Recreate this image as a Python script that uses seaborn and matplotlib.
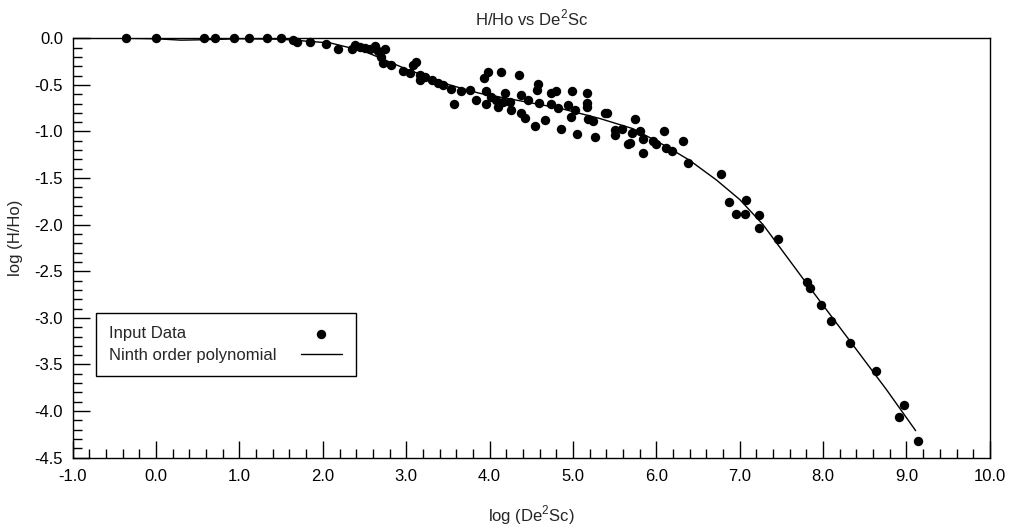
import numpy as np
import pandas as pd
import matplotlib
matplotlib.use("Agg")
import matplotlib.pyplot as plt
import matplotlib.ticker as ticker
import seaborn as sns

# Input data
x_data = [-0.36, 0.00, 0.58, 0.71, 0.93, 1.12, 1.33, 1.50, 1.64, 1.69, 1.85, 2.04,
          2.18, 2.35, 2.38, 2.44, 2.50, 2.57, 2.62, 2.66, 2.74, 2.70, 2.72, 2.82,
          2.96, 3.04, 3.12, 3.08, 3.16, 3.17, 3.23, 3.31, 3.38, 3.44, 3.54, 3.57,
          3.66, 3.76, 3.84, 3.93, 3.98, 3.96, 3.96, 4.02, 4.08, 4.10, 4.14, 4.18,
          4.16, 4.24, 4.26, 4.35, 4.38, 4.38, 4.42, 4.46, 4.54, 4.58, 4.57, 4.59,
          4.66, 4.74, 4.80, 4.74, 4.82, 4.86, 4.94, 4.99, 5.02, 5.05, 4.98, 5.17,
          5.17, 5.17, 5.18, 5.24, 5.27, 5.38, 5.41, 5.50, 5.51, 5.59, 5.66, 5.74,
          5.71, 5.80, 5.68, 5.84, 5.84, 5.96, 5.99, 6.09, 6.11, 6.19, 6.32, 6.38,
          6.78, 6.87, 6.96, 7.06, 7.07, 7.23, 7.23, 7.46, 7.81, 7.84, 7.97, 8.10,
          8.32, 8.63, 8.97, 8.91, 9.14]
y_data = [0.00, 0.00, 0.00, 0.00, 0.00, 0.00, 0.00, 0.00, -0.02, -0.04, -0.04, -0.065,
          -0.11, -0.11, -0.075, -0.09, -0.10, -0.11, -0.08, -0.14, -0.12, -0.20, -0.27, -0.29,
          -0.35, -0.37, -0.25, -0.29, -0.39, -0.45, -0.41, -0.45, -0.48, -0.50, -0.54, -0.70,
          -0.57, -0.56, -0.66, -0.43, -0.36, -0.57, -0.70, -0.63, -0.66, -0.74, -0.36, -0.59,
          -0.68, -0.68, -0.77, -0.39, -0.61, -0.80, -0.86, -0.66, -0.94, -0.49, -0.55, -0.69,
          -0.88, -0.59, -0.57, -0.70, -0.75, -0.97, -0.72, -0.57, -0.77, -1.03, -0.84, -0.59,
          -0.69, -0.74, -0.87, -0.89, -1.06, -0.80, -0.80, -0.98, -1.04, -0.97, -1.13, -0.87,
          -1.02, -1.00, -1.12, -1.08, -1.23, -1.10, -1.13, -0.99, -1.18, -1.21, -1.10, -1.34,
          -1.46, -1.76, -1.89, -1.89, -1.73, -1.90, -2.04, -2.15, -2.62, -2.68, -2.86, -3.03,
          -3.27, -3.57, -3.93, -4.06, -4.32]

# Ninth order polynomial curve
x_fit = [-0.36, 0.0, 0.3, 0.6, 1.0, 1.5, 2.09, 2.5, 3.0, 3.52, 3.88, 4.3, 4.84,
         5.32, 5.72, 6.12, 6.40, 6.72, 7.00, 7.28, 7.76, 8.24, 8.76, 9.11]
y_fit = [0.0, -0.005, -0.02, -0.015, -0.005, -0.01, -0.05, -0.14, -0.33, -0.50, -0.59,
         -0.66, -0.75, -0.86, -0.97, -1.16, -1.31, -1.52, -1.73, -2.00, -2.58, -3.15,
         -3.77, -4.21]

df_pts = pd.DataFrame({"x": x_data, "y": y_data})
df_fit = pd.DataFrame({"x": x_fit, "y": y_fit})

sns.set_style("white")
plt.rcParams["font.family"] = ["Liberation Sans", "DejaVu Sans"]
plt.rcParams["mathtext.fontset"] = "custom"
plt.rcParams["mathtext.rm"] = "Liberation Sans"
plt.rcParams["axes.unicode_minus"] = False

fig = plt.figure(figsize=(10.11, 5.29), dpi=100)
ax = fig.add_axes([0.0719, 0.1348, 0.9072, 0.7928])

sns.lineplot(data=df_fit, x="x", y="y", sort=False, estimator=None, color="black",
             linewidth=1.0, label="Ninth order polynomial", ax=ax, zorder=2)
sns.scatterplot(data=df_pts, x="x", y="y", color="black", s=46, linewidth=0,
                label="Input Data", ax=ax, zorder=3, clip_on=False)

ax.set_xlim(-1.0, 10.0)
ax.set_ylim(-4.5, 0.0)
ax.xaxis.set_major_locator(ticker.MultipleLocator(1.0))
ax.xaxis.set_minor_locator(ticker.MultipleLocator(0.2))
ax.yaxis.set_major_locator(ticker.MultipleLocator(0.5))
ax.yaxis.set_minor_locator(ticker.MultipleLocator(0.1))
ax.xaxis.set_major_formatter(ticker.FormatStrFormatter("%.1f"))
ax.yaxis.set_major_formatter(ticker.FormatStrFormatter("%.1f"))
ax.tick_params(which="both", direction="in", color="black", width=1.0,
               bottom=True, left=True, top=False, right=False,
               labelsize=12, labelcolor="black")
ax.tick_params(axis="x", which="major", length=12, pad=8)
ax.tick_params(axis="x", which="minor", length=6.5)
ax.tick_params(axis="y", which="major", length=12, pad=7)
ax.tick_params(axis="y", which="minor", length=6.5)
for sp in ax.spines.values():
    sp.set_color("black")
    sp.set_linewidth(1.0)

ax.set_title(r"H/Ho vs De$^{\mathrm{2}}$Sc", fontsize=12, pad=9)
ax.set_xlabel(r"log (De$^{\mathrm{2}}$Sc)", fontsize=12, labelpad=14)
ax.set_ylabel("")
fig.text(0.015, 0.551, "log (H/Ho)", rotation=90, ha="center", va="center", fontsize=12)

# legend: labels left, symbols right
h, l = ax.get_legend_handles_labels()
order = [l.index("Input Data"), l.index("Ninth order polynomial")]
leg = ax.legend([h[i] for i in order], [l[i] for i in order], loc="upper left",
                bbox_to_anchor=(0.0254, 0.345), borderaxespad=0, markerfirst=False,
                frameon=True, fancybox=False, edgecolor="black", framealpha=1,
                handlelength=2.5, borderpad=0.8, labelspacing=0.38, fontsize=12)
leg.get_frame().set_linewidth(1.0)
col = leg._legend_handle_box.get_children()[0]
col.width = 233
for row in col.get_children():
    row.mode = "expand"

fig.savefig("out.png", dpi=100)
